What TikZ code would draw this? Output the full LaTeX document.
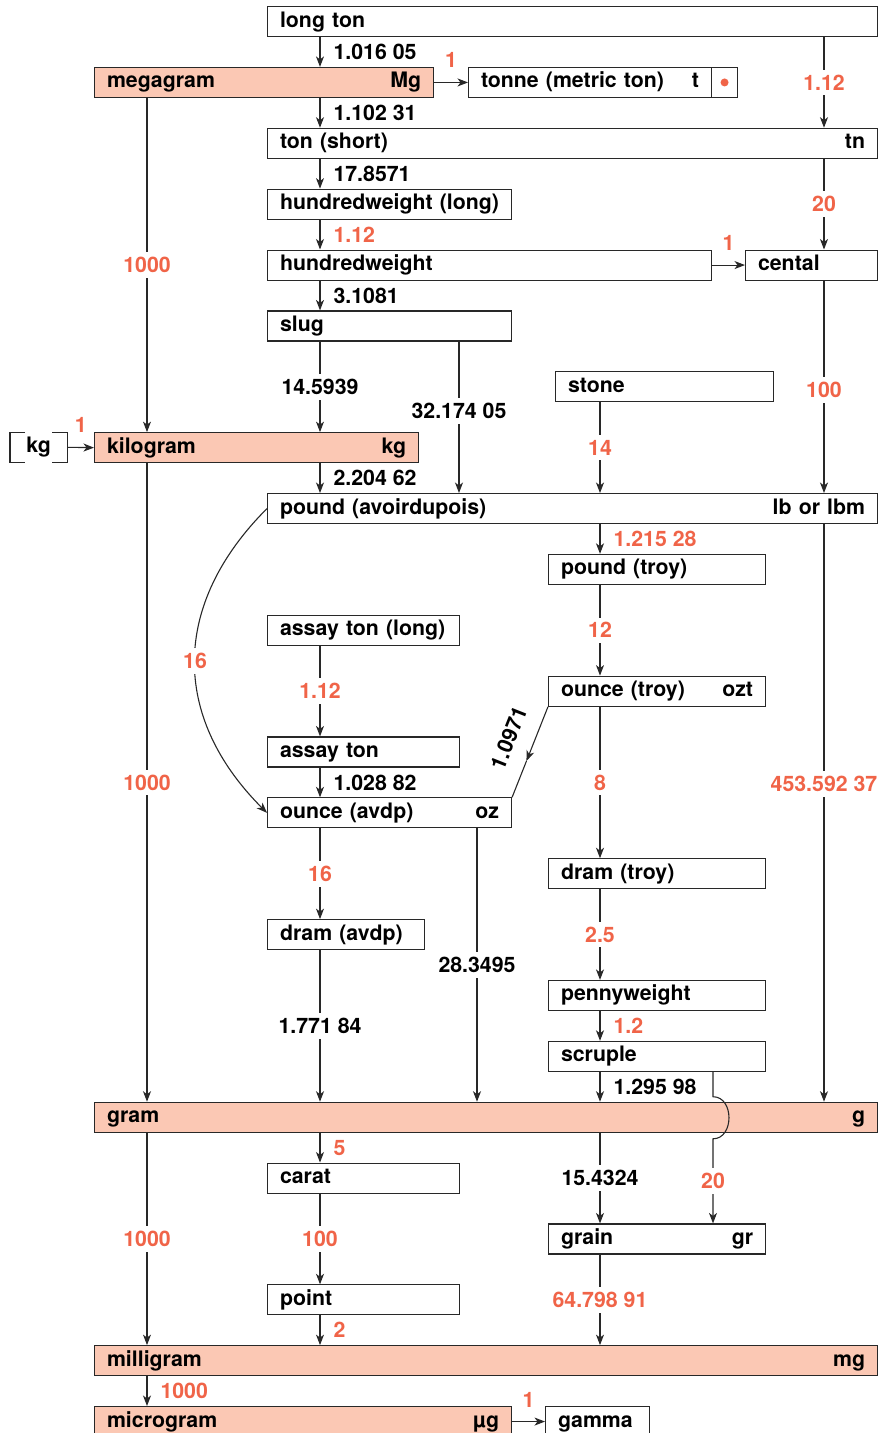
\documentclass[tikz,border=0pt]{standalone}
\usepackage{fontspec}
\setmainfont{TeX Gyre Heros}
\usetikzlibrary{arrows.meta,calc}
\definecolor{salmon}{RGB}{251,200,180}
\definecolor{otxt}{RGB}{240,100,72}
\definecolor{ink}{RGB}{40,40,40}
\begin{document}
\begin{tikzpicture}[x=1pt,y=-1pt,
  every node/.style={font=\fontsize{21.3}{24}\selectfont\bfseries},
  box/.style={draw=ink, line width=1.1pt, anchor=north west, minimum height=30pt, inner xsep=12.5pt, inner ysep=0pt, text height=15pt, text depth=4pt, align=left},
  hl/.style={fill=salmon},
  arr/.style={draw=ink, line width=1.1pt, -{Stealth[length=10.5pt,width=8pt,inset=3pt]}},
  ln/.style={draw=ink, line width=1.1pt},
  rl/.style={midway, anchor=west, xshift=12pt, inner sep=1pt},
  cl/.style={midway, fill=white, inner xsep=3pt, inner ysep=5pt},
  al/.style={midway, anchor=south, yshift=13pt, inner sep=1pt},
  org/.style={text=otxt},
]
\path[use as bounding box] (0,0) rectangle (879,1433);
\clip (0,0) rectangle (879,1433);

% columns
\coordinate (c1) at (147,0);
\coordinate (c2) at (320,0);
\coordinate (c3) at (459,0);
\coordinate (c3b) at (477,0);
\coordinate (c4) at (600,0);
\coordinate (c5) at (713,0);
\coordinate (c6) at (824,0);

% boxes
\node[box,text width=585pt] (lt) at (267,6) {long ton};
\node[box,hl,text width=314pt] (mg) at (94,66.9) {megagram\hfill Mg};
\node[box,text width=218pt] (tonne) at (468,66.9) {tonne (metric ton)\hfill t};
\node[draw=ink, line width=1.1pt, anchor=north west, minimum width=26pt, minimum height=30pt, inner sep=0pt] (tdot) at (711,66.9) {};
\node[circle, fill=otxt, inner sep=0pt, minimum size=8pt] (dot) at (tdot.center) {};
\node[box,text width=585pt] (ts) at (267,127.7) {ton (short)\hfill tn};
\node[box,text width=219pt] (hwl) at (267,188.6) {hundredweight (long)};
\node[box,text width=419pt] (hw) at (267,249.5) {hundredweight};
\node[box,text width=107pt] (cen) at (745,249.5) {cental};
\node[box,text width=219pt] (slug) at (267,310.4) {slug};
\node[box,text width=193pt] (stone) at (555,371.2) {stone};
\node[minimum width=57pt, minimum height=30pt, inner sep=0pt, anchor=north west, text height=15pt, text depth=4pt] (kgb) at (10,432.1) {kg};
\node[box,hl,text width=299pt] (kilo) at (94,432.1) {kilogram\hfill kg};
\node[box,text width=585pt] (pd) at (267,493) {pound (avoirdupois)\hfill lb or lbm};
\node[box,text width=192pt] (ptr) at (548,553.8) {pound (troy)};
\node[box,text width=167pt] (atl) at (267,614.7) {assay ton (long)};
\node[box,text width=192pt] (ozt) at (548,675.6) {ounce (troy)\hfill ozt};
\node[box,text width=167pt] (at) at (267,736.4) {assay ton};
\node[box,text width=219pt] (oz) at (267,797.3) {ounce (avdp)\hfill oz};
\node[box,text width=192pt] (drt) at (548,858.2) {dram (troy)};
\node[box,text width=132pt] (dra) at (267,919.1) {dram (avdp)};
\node[box,text width=192pt] (pw) at (548,979.9) {pennyweight};
\node[box,text width=192pt] (scr) at (548,1040.8) {scruple};
\node[box,hl,text width=758pt] (gram) at (94,1101.7) {gram\hfill g};
\node[box,text width=167pt] (carat) at (267,1162.5) {carat};
\node[box,text width=192pt] (grain) at (548,1223.4) {grain\hfill gr};
\node[box,text width=167pt] (point) at (267,1284.3) {point};
\node[box,hl,text width=758pt] (mgr) at (94,1345.1) {milligram\hfill mg};
\node[box,hl,text width=392pt] (ug) at (94,1406) {microgram\hfill µg};
\node[box,text width=79pt] (gam) at (545,1406) {gamma};

% kg brackets
\draw[ln] ($(kgb.north west)+(15,0)$) -- (kgb.north west) -- (kgb.south west) -- ++(15,0);
\draw[ln] ($(kgb.north east)+(-15,0)$) -- (kgb.north east) -- (kgb.south east) -- ++(-15,0);

% connectors
\draw[arr] (lt.south -| c2) -- node[rl]{1.016 05} (mg.north -| c2);
\draw[arr] (mg.east) -- node[al,org]{1} (tonne.west);
\draw[arr] (mg.south -| c2) -- node[rl]{1.102 31} (ts.north -| c2);
\draw[arr] (lt.south -| c6) -- node[cl,org]{1.12} (ts.north -| c6);
\draw[arr] (ts.south -| c2) -- node[rl]{17.8571} (hwl.north -| c2);
\draw[arr] (ts.south -| c6) -- node[cl,org]{20} (cen.north -| c6);
\draw[arr] (hwl.south -| c2) -- node[rl,org]{1.12} (hw.north -| c2);
\draw[arr] (hw.east) -- node[al,org]{1} (cen.west);
\draw[arr] (hw.south -| c2) -- node[rl]{3.1081} (slug.north -| c2);
\draw[arr] (mg.south -| c1) -- node[cl,org]{1000} (kilo.north -| c1);
\draw[arr] (slug.south -| c2) -- node[cl]{14.5939} (kilo.north -| c2);
\draw[arr] (slug.south -| c3) -- node[cl,pos=0.46]{32.174 05} (pd.north -| c3);
\draw[arr] (stone.south -| c4) -- node[cl,org]{14} (pd.north -| c4);
\draw[arr] (cen.south -| c6) -- node[cl,org,pos=0.515]{100} (pd.north -| c6);
\draw[arr] (kgb.east) -- node[al,org]{1} (kilo.west);
\draw[arr] (kilo.south -| c2) -- node[rl]{2.204 62} (pd.north -| c2);
\draw[arr] (pd.south -| c4) -- node[rl,org]{1.215 28} (ptr.north -| c4);
\draw[arr] (pd.west) .. controls +(-96,96) and +(-96,-96) .. node[cl,org]{16} (oz.west);
\draw[arr] (ptr.south -| c4) -- node[cl,org]{12} (ozt.north -| c4);
\draw[arr] (atl.south -| c2) -- node[cl,org]{1.12} (at.north -| c2);
\coordinate (mid) at ($(ozt.south west)!0.6!(oz.north east)$);
\draw[arr] (ozt.south west) -- (mid);
\draw[ln] (mid) -- (oz.north east);
\path (ozt.south west) -- node[sloped, above=16pt, pos=0.45, inner sep=1pt]{1.0971} (oz.north east);
\draw[arr] (at.south -| c2) -- node[rl]{1.028 82} (oz.north -| c2);
\draw[arr] (ozt.south -| c4) -- node[cl,org]{8} (drt.north -| c4);
\draw[arr] (oz.south -| c2) -- node[cl,org]{16} (dra.north -| c2);
\draw[arr] (oz.south -| c3b) -- node[cl]{28.3495} (gram.north -| c3b);
\draw[arr] (drt.south -| c4) -- node[cl,org]{2.5} (pw.north -| c4);
\draw[arr] (pw.south -| c4) -- node[rl,org]{1.2} (scr.north -| c4);
\draw[arr] (dra.south -| c2) -- node[cl]{1.771 84} (gram.north -| c2);
\draw[arr] (scr.south -| c4) -- node[rl]{1.295 98} (gram.north -| c4);
\draw[arr] (kilo.south -| c1) -- node[cl,org]{1000} (gram.north -| c1);
\draw[arr] (pd.south -| c6) -- node[cl,org,pos=0.45]{453.592 37} (gram.north -| c6);
\coordinate (hopa) at ($(gram.north -| c5)+(0,-5)$);
\coordinate (hopb) at ($(gram.south -| c5)+(0,6)$);
\draw[arr] (scr.south -| c5) -- (hopa) .. controls +(21.3,0) and +(21.3,0) .. (hopb) -- node[cl,org]{20} (grain.north -| c5);
\draw[arr] (gram.south -| c2) -- node[rl,org]{5} (carat.north -| c2);
\draw[arr] (gram.south -| c4) -- node[cl]{15.4324} (grain.north -| c4);
\draw[arr] (gram.south -| c1) -- node[cl,org]{1000} (mgr.north -| c1);
\draw[arr] (carat.south -| c2) -- node[cl,org]{100} (point.north -| c2);
\draw[arr] (grain.south -| c4) -- node[cl,org]{64.798 91} (mgr.north -| c4);
\draw[arr] (point.south -| c2) -- node[rl,org]{2} (mgr.north -| c2);
\draw[arr] (mgr.south -| c1) -- node[rl,org]{1000} (ug.north -| c1);
\draw[arr] (ug.east) -- node[al,org]{1} (gam.west);
\end{tikzpicture}
\end{document}
